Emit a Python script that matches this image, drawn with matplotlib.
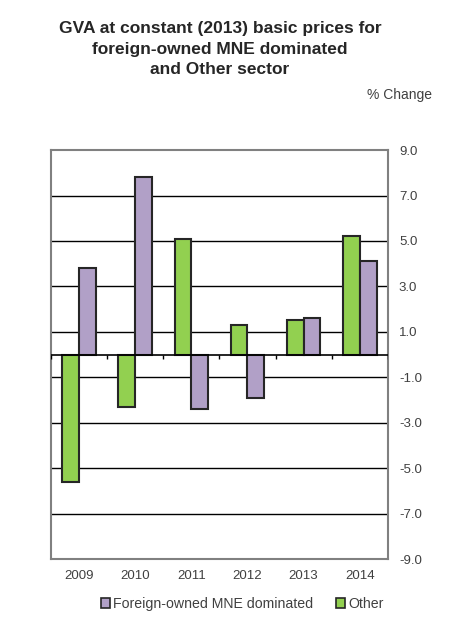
import matplotlib
matplotlib.use("Agg")
import matplotlib.pyplot as plt
import numpy as np
from matplotlib.patches import Patch

plt.rcParams['font.family'] = ['Liberation Sans', 'DejaVu Sans']

years = ['2009', '2010', '2011', '2012', '2013', '2014']
mne = [3.8, 7.8, -2.4, -1.9, 1.6, 4.1]
other = [-5.6, -2.3, 5.1, 1.3, 1.5, 5.2]
yticks = [-9, -7, -5, -3, -1, 1, 3, 5, 7, 9]

green = '#92D050'
purple = '#B1A0C7'
edge = '#262626'
txt = '#404040'

fig = plt.figure(figsize=(4.77, 6.32), dpi=100)
ax = fig.add_axes([0.107, 0.1155, 0.706, 0.647])

x = np.arange(len(years))
w = 0.3
ax.bar(x - w / 2, other, w, color=green, edgecolor=edge, linewidth=1.5, zorder=3)
ax.bar(x + w / 2, mne, w, color=purple, edgecolor=edge, linewidth=1.5, zorder=3)

ax.set_xlim(-0.5, len(years) - 0.5)
ax.set_ylim(-9, 9)
ax.set_yticks(yticks)
ax.set_yticklabels([f'{v:.1f}' for v in yticks], color=txt, fontsize=9.5)
ax.yaxis.tick_right()
ax.tick_params(axis='y', length=0, pad=8)
ax.set_xticks(x)
ax.set_xticklabels(years, color=txt, fontsize=9.5)
ax.tick_params(axis='x', length=0, pad=8)

for v in yticks[1:-1]:
    ax.axhline(v, color='black', linewidth=1.0, zorder=1)
ax.axhline(0, color='black', linewidth=1.2, zorder=4)
bounds = np.arange(len(years) + 1) - 0.5
ax.vlines(bounds, 0, -0.18, color='black', linewidth=1.0, zorder=4)

for s in ax.spines.values():
    s.set_color('#808080')
    s.set_linewidth(1.5)

fig.text(0.461, 0.966, 'GVA at constant (2013) basic prices for\nforeign-owned MNE dominated\nand Other sector',
         ha='center', va='top', fontsize=12.5, fontweight='bold', color='#262626', linespacing=1.42)
fig.text(0.905, 0.85, '% Change', ha='right', va='center', fontsize=10, color=txt)

handles = [Patch(facecolor=purple, edgecolor=edge, linewidth=1.2),
           Patch(facecolor=green, edgecolor=edge, linewidth=1.2)]
fig.legend(handles, ['Foreign-owned MNE dominated', 'Other'], loc='center',
           bbox_to_anchor=(0.508, 0.044), ncol=2, frameon=False, fontsize=10.2,
           handlelength=0.65, handleheight=0.65, handletextpad=0.2, columnspacing=1.6,
           labelcolor=txt)

fig.savefig('out.png', dpi=100)
